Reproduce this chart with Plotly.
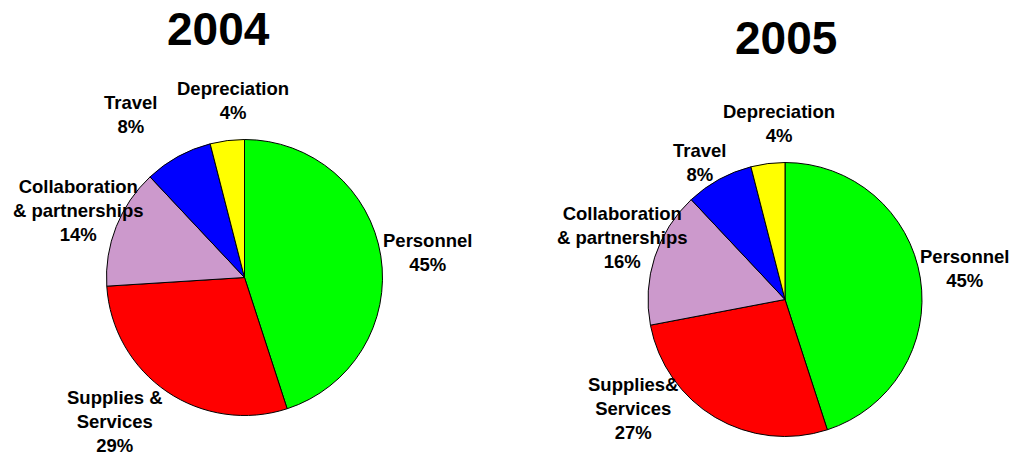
import plotly.graph_objects as go

categories = ["Personnel", "Supplies & Services", "Collaboration & partnerships", "Travel", "Depreciation"]
labels_2004 = ["Personnel", "Supplies &<br>Services", "Collaboration<br>& partnerships", "Travel", "Depreciation"]
labels_2005 = ["Personnel", "Supplies&<br>Services", "Collaboration<br>& partnerships", "Travel", "Depreciation"]
values_2004 = [45, 29, 14, 8, 4]
values_2005 = [45, 27, 16, 8, 4]
colors = ["#00FF00", "#FF0000", "#CC99CC", "#0000FF", "#FFFF00"]

W, H = 1012, 456
FONT = "Liberation Sans, Arial, sans-serif"

# label block centers in window pixels (layout only)
label_pos_2004 = [(427, 252), (115, 421), (78, 210), (131, 114), (233, 101)]
label_pos_2005 = [(964, 268), (633, 408), (622, 237), (700, 163), (779, 123)]


def px_x(x):
    return x / W


def px_y(y):
    return 1 - y / H


def pie_domain(cx, cy, r):
    return dict(x=[px_x(cx - r), px_x(cx + r)], y=[px_y(cy + r), px_y(cy - r)])


fig = go.Figure()
for vals, dom in [(values_2004, pie_domain(244.5, 277.5, 138)),
                  (values_2005, pie_domain(785, 299.5, 137))]:
    fig.add_trace(go.Pie(
        labels=categories, values=vals, sort=False, direction="clockwise", rotation=0,
        marker=dict(colors=colors, line=dict(color="black", width=1)),
        textinfo="none", showlegend=False, domain=dom, hoverinfo="label+percent",
    ))

annotations = []
for labs, vals, poss in [(labels_2004, values_2004, label_pos_2004),
                         (labels_2005, values_2005, label_pos_2005)]:
    total = sum(vals)
    for lab, v, (x, y) in zip(labs, vals, poss):
        annotations.append(dict(
            text=f"<b>{lab}<br>{round(100 * v / total)}%</b>",
            x=px_x(x), y=px_y(y), xref="paper", yref="paper",
            xanchor="center", yanchor="middle", showarrow=False,
            font=dict(family=FONT, size=18.5, color="black"), align="center",
        ))

for t, (x, y) in [("2004", (218, 29)), ("2005", (786, 38))]:
    annotations.append(dict(
        text=f"<b>{t}</b>", x=px_x(x), y=px_y(y), xref="paper", yref="paper",
        xanchor="center", yanchor="middle", showarrow=False,
        font=dict(family=FONT, size=46, color="black"),
    ))

fig.update_layout(
    width=W, height=H, margin=dict(l=0, r=0, t=0, b=0),
    paper_bgcolor="white", plot_bgcolor="white",
    annotations=annotations,
)

fig.write_html(
    "out.html",
    config={"displayModeBar": False},
    post_script="document.body.style.margin='0';document.body.style.overflow='hidden';",
)
